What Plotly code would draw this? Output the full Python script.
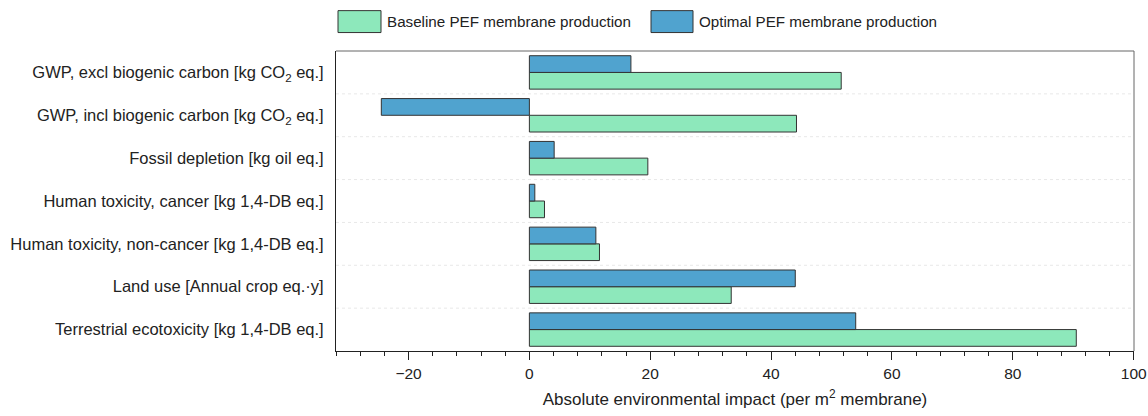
import plotly.graph_objects as go

# Impact categories, top to bottom
categories = [
    "GWP, excl biogenic carbon [kg CO<sub>2</sub> eq.]",
    "GWP, incl biogenic carbon [kg CO<sub>2</sub> eq.]",
    "Fossil depletion [kg oil eq.]",
    "Human toxicity, cancer [kg 1,4-DB eq.]",
    "Human toxicity, non-cancer [kg 1,4-DB eq.]",
    "Land use [Annual crop eq.·y]",
    "Terrestrial ecotoxicity [kg 1,4-DB eq.]",
]
baseline = [51.6, 44.2, 19.6, 2.5, 11.6, 33.4, 90.5]
optimal = [16.8, -24.5, 4.1, 0.9, 11.0, 44.0, 54.0]
series_names = ["Baseline PEF membrane production", "Optimal PEF membrane production"]
x_ticks = [-20, 0, 20, 40, 60, 80, 100]

GREEN = "#8de8bb"
BLUE = "#50a3cf"
EDGE = "#333333"
FONT = "Liberation Sans, Arial, sans-serif"

fig = go.Figure()
fig.add_trace(go.Bar(y=categories, x=baseline, orientation="h", name=series_names[0],
                     marker=dict(color=GREEN, line=dict(color=EDGE, width=1))))
fig.add_trace(go.Bar(y=categories, x=optimal, orientation="h", name=series_names[1],
                     marker=dict(color=BLUE, line=dict(color=EDGE, width=1))))

# faint dotted separators between category groups
shapes = []
for i in range(len(categories) - 1):
    shapes.append(dict(type="line", xref="paper", x0=0, x1=1, yref="y",
                       y0=i + 0.5, y1=i + 0.5,
                       line=dict(color="#e8e8e8", width=1, dash="dot"), layer="below"))

# grey top/right frame edges
shapes.append(dict(type="line", xref="paper", yref="paper", x0=0, x1=1, y0=1, y1=1,
                   line=dict(color="#666", width=1)))
shapes.append(dict(type="line", xref="paper", yref="paper", x0=1, x1=1, y0=0, y1=1,
                   line=dict(color="#666", width=1)))

# legend drawn as wide swatches above the plot
L, R, T, B = 336, 1134, 50.5, 351.5
def px(xp):
    return (xp - L) / (R - L)
def py(yp):
    return (B - yp) / (B - T)

annotations = []
swatches = [(338, 381, GREEN, series_names[0]), (651, 693, BLUE, series_names[1])]
for x0, x1, col, name in swatches:
    shapes.append(dict(type="rect", xref="paper", yref="paper",
                       x0=px(x0), x1=px(x1), y0=py(32), y1=py(10),
                       fillcolor=col, line=dict(color=EDGE, width=1)))
    annotations.append(dict(xref="paper", yref="paper", x=px(x1 + 4), y=py(21),
                            xanchor="left", yanchor="middle", showarrow=False,
                            text=name, font=dict(size=15.2, color="#222", family=FONT)))

fig.update_layout(
    width=1148, height=416,
    margin=dict(l=L, r=1148 - R, t=T, b=416 - B, pad=0, autoexpand=False),
    paper_bgcolor="white", plot_bgcolor="white",
    barmode="group", bargap=0.22, bargroupgap=0,
    showlegend=False,
    font=dict(family=FONT, size=16, color="#222"),
    shapes=shapes, annotations=annotations,
    xaxis=dict(range=[-32, 100.05], tickmode="array", tickvals=x_ticks,
               ticks="outside", ticklen=8, tickcolor="#222", tickwidth=1,
               minor=dict(dtick=4, tick0=0, ticks="outside", ticklen=4, tickcolor="#222"),
               showgrid=False, zeroline=False, automargin=False,
               showline=True, linecolor="#222", linewidth=1,
               tickfont=dict(size=15.5), ticklabeloverflow="allow",
               title=dict(text="Absolute environmental impact (per m<sup>2</sup> membrane)",
                          font=dict(size=17), standoff=12)),
    yaxis=dict(categoryorder="array", categoryarray=categories[::-1],
               range=[-0.5, len(categories) - 0.5],
               showgrid=False, zeroline=False, ticks="", automargin=False,
               showline=True, linecolor="#222", linewidth=1,
               ticklabelstandoff=8, tickfont=dict(size=16.5)),
)

fig.write_html("out.html")
